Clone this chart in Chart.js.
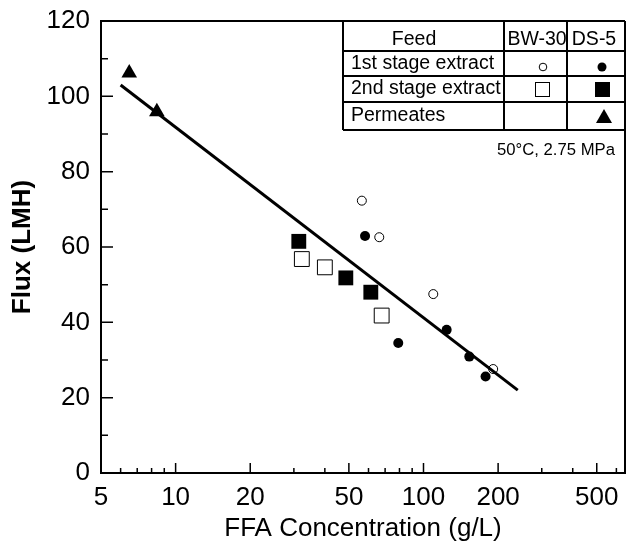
<!DOCTYPE html>
<html>
<head>
<meta charset="utf-8">
<script src="https://cdn.jsdelivr.net/npm/chart.js@4.4.1/dist/chart.umd.min.js"></script>
<style>
  html, body { margin: 0; padding: 0; background: #fff; }
  canvas { display: block; }
</style>
</head>
<body>
<canvas id="myChart" width="626" height="550"></canvas>
<script>
// values (x = FFA g/L, y = flux LMH)
const permeatesX = [6.5, 8.4];
const permeatesY = [106.2, 95.9];
const ds5SecondX = [31.4, 48.6, 61.3];
const ds5SecondY = [61.5, 51.8, 48.0];
const bw30SecondX = [32.3, 40.0, 67.8];
const bw30SecondY = [56.8, 54.6, 41.8];
const bw30FirstX = [56.4, 66.3, 109.5, 191];
const bw30FirstY = [72.3, 62.6, 47.5, 27.6];
const ds5FirstX = [58.1, 79.1, 124, 153, 178];
const ds5FirstY = [62.9, 34.5, 38.0, 30.9, 25.6];
const fitX = [6, 240];
const fitY = [103, 22];

const xTickLabels = [5, 10, 20, 50, 100, 200, 500];
const xMinorTicks = [6, 7, 8, 9, 30, 40, 60, 70, 80, 90, 300, 400, 600];
const yTickLabels = [0, 20, 40, 60, 80, 100, 120];
const yMinorTicks = [10, 30, 50, 70, 90, 110];

const tableRows = ['1st stage extract', '2nd stage extract', 'Permeates'];
const tableHeader = ['Feed', 'BW-30', 'DS-5'];
const noteText = '50\u00b0C, 2.75 MPa';

const pts = (xs, ys) => xs.map((x, i) => ({ x: x, y: ys[i] }));
const FONT = "'Liberation Sans', Arial, sans-serif";
Chart.defaults.font.family = FONT;
Chart.defaults.color = '#000';

// inward tick marks, frame and the key table
const decorations = {
    id: 'decorations',
    afterDraw(chart) {
        const ctx = chart.ctx;
        const a = chart.chartArea;
        const xs = chart.scales.x, ys = chart.scales.y;
        ctx.save();
        ctx.strokeStyle = '#000';
        ctx.lineWidth = 2;
        ctx.beginPath();
        ctx.moveTo(a.left, a.top); ctx.lineTo(a.right, a.top);
        ctx.moveTo(a.right, a.top); ctx.lineTo(a.right, a.bottom);
        ctx.stroke();

        ctx.lineWidth = 1.5;
        ctx.beginPath();
        xTickLabels.forEach(v => {
            const px = xs.getPixelForValue(v);
            if (px <= a.left + 1) return;
            ctx.moveTo(px, a.bottom); ctx.lineTo(px, a.bottom - 10);
        });
        xMinorTicks.forEach(v => {
            const px = xs.getPixelForValue(v);
            ctx.moveTo(px, a.bottom); ctx.lineTo(px, a.bottom - 5);
        });
        yTickLabels.forEach(v => {
            const py = ys.getPixelForValue(v);
            if (py >= a.bottom - 1 || py <= a.top + 1) return;
            ctx.moveTo(a.left, py); ctx.lineTo(a.left + 12, py);
        });
        yMinorTicks.forEach(v => {
            const py = ys.getPixelForValue(v);
            ctx.moveTo(a.left, py); ctx.lineTo(a.left + 7, py);
        });
        ctx.stroke();

        // key table
        const cols = [343, 504, 567, a.right];
        const rows = [a.top, 51, 76, 102, 130];
        ctx.fillStyle = '#fff';
        ctx.fillRect(cols[0], rows[0], cols[3] - cols[0], rows[4] - rows[0]);
        ctx.lineWidth = 2;
        ctx.beginPath();
        cols.forEach(c => { ctx.moveTo(c, rows[0]); ctx.lineTo(c, rows[4]); });
        rows.forEach(r => { ctx.moveTo(cols[0], r); ctx.lineTo(cols[3], r); });
        ctx.stroke();

        ctx.fillStyle = '#000';
        ctx.font = '19.5px ' + FONT;
        ctx.textBaseline = 'middle';
        ctx.textAlign = 'center';
        ctx.fillText(tableHeader[0], 414, 40);
        ctx.fillText(tableHeader[1], 537, 40);
        ctx.fillText(tableHeader[2], 594, 40);
        ctx.textAlign = 'left';
        tableRows.forEach((t, i) => ctx.fillText(t, 351, [64, 89, 116][i]));

        // key symbols
        ctx.lineWidth = 1;
        ctx.beginPath(); ctx.arc(543, 67, 3.8, 0, Math.PI * 2); ctx.stroke();
        ctx.beginPath(); ctx.arc(602, 67, 4.5, 0, Math.PI * 2); ctx.fill();
        ctx.strokeRect(535.5, 82.5, 14, 14);
        ctx.fillRect(595, 82, 15, 15);
        ctx.beginPath();
        ctx.moveTo(604, 109); ctx.lineTo(612, 123); ctx.lineTo(596, 123); ctx.closePath(); ctx.fill();

        ctx.font = '16.7px ' + FONT;
        ctx.textAlign = 'right';
        ctx.fillText(noteText, 615, 150);
        ctx.restore();
    }
};

const data = {
    datasets: [
        {
            label: 'fit',
            data: pts(fitX, fitY),
            showLine: true,
            borderColor: '#000',
            borderWidth: 3,
            pointRadius: 0
        },
        {
            label: 'BW-30 1st stage extract',
            data: pts(bw30FirstX, bw30FirstY),
            pointStyle: 'circle',
            pointRadius: 4.5,
            pointBorderWidth: 1,
            pointBorderColor: '#000',
            pointBackgroundColor: '#fff'
        },
        {
            label: 'DS-5 1st stage extract',
            data: pts(ds5FirstX, ds5FirstY),
            pointStyle: 'circle',
            pointRadius: 5,
            pointBorderWidth: 0,
            pointBackgroundColor: '#000'
        },
        {
            label: 'BW-30 2nd stage extract',
            data: pts(bw30SecondX, bw30SecondY),
            pointStyle: 'rect',
            pointRadius: 10.5,
            pointBorderWidth: 1,
            pointBorderColor: '#000',
            pointBackgroundColor: '#fff'
        },
        {
            label: 'DS-5 2nd stage extract',
            data: pts(ds5SecondX, ds5SecondY),
            pointStyle: 'rect',
            pointRadius: 10.5,
            pointBorderWidth: 0,
            pointBackgroundColor: '#000'
        },
        {
            label: 'DS-5 permeates',
            data: pts(permeatesX, permeatesY),
            pointStyle: 'triangle',
            pointRadius: 9,
            pointBorderWidth: 0,
            pointBackgroundColor: '#000'
        }
    ]
};

const config = {
    type: 'scatter',
    data: data,
    options: {
        responsive: false,
        animation: false,
        devicePixelRatio: 1,
        layout: { autoPadding: false, padding: { top: 21, right: 1, left: 0, bottom: 0 } },
        plugins: { legend: { display: false }, tooltip: { enabled: false } },
        scales: {
            x: {
                type: 'logarithmic',
                min: 5,
                max: 650,
                grid: { display: false, drawTicks: false },
                border: { display: true, color: '#000', width: 2 },
                afterBuildTicks: (scale) => { scale.ticks = xTickLabels.map(v => ({ value: v })); },
                afterFit: (scale) => {
                    scale.height = 77;
                    scale.paddingLeft = 0;
                    scale.paddingRight = 0;
                },
                ticks: {
                    autoSkip: false,
                    maxRotation: 0,
                    padding: 9,
                    font: { size: 26 },
                    color: '#000',
                    callback: (v) => String(v)
                },
                title: {
                    display: true,
                    text: 'FFA Concentration (g/L)',
                    font: { size: 26 },
                    color: '#000',
                    padding: { top: 0, bottom: 6 }
                }
            },
            y: {
                min: 0,
                max: 120,
                grid: { display: false, drawTicks: false },
                border: { display: true, color: '#000', width: 2 },
                afterBuildTicks: (scale) => { scale.ticks = yTickLabels.map(v => ({ value: v })); },
                afterFit: (scale) => {
                    scale.width = 101;
                    scale.paddingTop = 0;
                    scale.paddingBottom = 0;
                },
                ticks: {
                    padding: 11,
                    font: { size: 26 },
                    color: '#000'
                },
                title: {
                    display: true,
                    text: 'Flux (LMH)',
                    font: { size: 26, weight: 'bold' },
                    color: '#000',
                    padding: { top: 7, bottom: 0 }
                }
            }
        }
    },
    plugins: [decorations]
};

const myChart = new Chart(document.getElementById('myChart').getContext('2d'), config);
</script>
</body>
</html>
